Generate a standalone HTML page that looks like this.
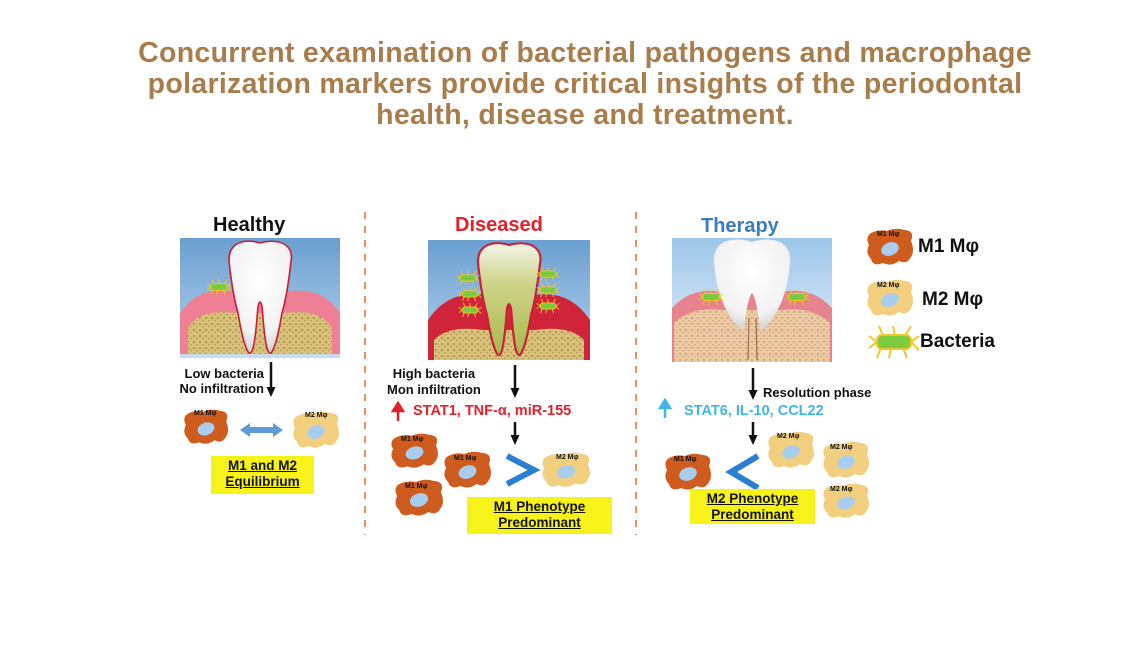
<!DOCTYPE html>
<html><head><meta charset="utf-8"><style>
body{margin:0;background:#fff;}
#c{position:relative;width:1145px;height:668px;overflow:hidden;font-family:"Liberation Sans",Arial,sans-serif;font-weight:bold;}
.t{position:absolute;white-space:nowrap;}
.title{left:0;width:1170px;top:38px;text-align:center;color:#a97d4b;font-size:28.5px;line-height:31px;letter-spacing:0.3px;}
.yb{position:absolute;background:#f7f31a;text-align:center;font-size:13.5px;line-height:16px;text-decoration:underline;color:#111;padding-top:2px;box-sizing:border-box;}
.cl{position:absolute;font-size:7px;color:#111;}
svg{position:absolute;overflow:visible;}
</style></head><body><div id="c">
<div class="t title">Concurrent examination of bacterial pathogens and macrophage<br>polarization markers provide critical insights of the periodontal<br>health, disease and treatment.</div>

<svg width="1145" height="668" style="left:0;top:0">
<defs>
<linearGradient id="sky" x1="0" y1="0" x2="0" y2="1"><stop offset="0" stop-color="#6a9fd0"/><stop offset="1" stop-color="#b6d3ec"/></linearGradient>
<linearGradient id="sky2" x1="0" y1="0" x2="0" y2="1"><stop offset="0" stop-color="#9cc6ea"/><stop offset="1" stop-color="#eaf2fa"/></linearGradient>
<radialGradient id="tw" cx="0.5" cy="0.35" r="0.7"><stop offset="0" stop-color="#fff"/><stop offset="0.7" stop-color="#f2f2f2"/><stop offset="1" stop-color="#c8c8c8"/></radialGradient>
<linearGradient id="plq" x1="0" y1="0" x2="0" y2="1"><stop offset="0" stop-color="#f4f4e8"/><stop offset="0.35" stop-color="#cfd48a"/><stop offset="1" stop-color="#a9b84a"/></linearGradient>
<pattern id="bone" width="6" height="6" patternUnits="userSpaceOnUse"><rect width="6" height="6" fill="#d9c17a"/><circle cx="2" cy="2" r="0.9" fill="#8f7a3a"/><circle cx="5" cy="4.5" r="0.7" fill="#a48c48"/></pattern>
<pattern id="bone2" width="6" height="6" patternUnits="userSpaceOnUse"><rect width="6" height="6" fill="#ecc9a2"/><circle cx="2" cy="2" r="0.7" fill="#a07a5a"/><circle cx="5" cy="4.5" r="0.5" fill="#a07a5a"/></pattern>
<symbol id="cell" viewBox="0 0 50 40" preserveAspectRatio="none"><path d="M6 6 Q14 2 22 4 Q30 0 40 3 Q50 4 46 14 Q50 24 46 30 Q42 38 34 34 Q26 40 18 36 Q8 40 6 32 Q0 26 4 18 Q0 10 6 6Z"/><ellipse cx="25" cy="22" rx="9" ry="6.5" fill="#a9cdef" transform="rotate(-20 25 22)"/></symbol>
<symbol id="bac" viewBox="0 0 54 36" preserveAspectRatio="none"><g stroke="#f2c62a" stroke-width="2" fill="none"><path d="M10 18 L2 12 M10 18 L2 24 M16 12 L12 2 M28 12 L26 2 M38 12 L44 2 M44 18 L52 12 M44 18 L52 26 M36 24 L40 34 M24 24 L22 34 M14 24 L10 34"/></g><rect x="10" y="11" width="34" height="14" rx="5" fill="#7ccb3e" stroke="#f2c62a" stroke-width="2"/></symbol>
<marker id="ah" markerUnits="userSpaceOnUse" markerWidth="10" markerHeight="10" refX="5" refY="5" orient="auto"><path d="M0 0.5L10 5L0 9.5Z" fill="#111"/></marker>
<path id="tooth" d="M52 25 C50 5 65 0 80 5 C95 0 112 5 108 25 C106 45 104 60 100 75 C97 95 94 110 90 115 C86 117 84 100 82 70 C81 62 79 62 78 70 C76 100 74 117 70 115 C66 110 63 95 60 75 C56 60 54 45 52 25Z"/>
</defs>

<line x1="365" y1="212" x2="365" y2="535" stroke="#e8935a" stroke-width="2" stroke-dasharray="7,7"/>
<line x1="636" y1="212" x2="636" y2="535" stroke="#e8935a" stroke-width="2" stroke-dasharray="7,7"/>

<g transform="translate(180,238)">
<rect width="160" height="120" fill="url(#sky)"/>
<path d="M0 75 Q20 45 60 55 L100 55 Q140 45 160 75 L160 120 L0 120Z" fill="#ee7f95"/>
<path d="M8 120 L8 90 Q20 70 55 75 L105 75 Q140 70 152 90 L152 120Z" fill="url(#bone)"/>
<use href="#tooth" fill="url(#tw)" stroke="#c8203a" stroke-width="1.5" transform="translate(-8,0) scale(1.1,1)"/>
<rect x="0" y="116" width="160" height="4" fill="#c9dcee"/>
<use href="#bac" x="26" y="40" width="26" height="18"/>
</g>
<g transform="translate(428,240)">
<rect width="162" height="120" fill="url(#sky)"/>
<path d="M0 80 Q20 50 55 55 L107 55 Q142 50 162 80 L162 120 L0 120Z" fill="#d0243a"/>
<path d="M6 120 L6 100 Q20 85 55 90 L107 90 Q142 85 156 100 L156 120Z" fill="url(#bone)"/>
<use href="#tooth" fill="url(#plq)" stroke="#c8203a" stroke-width="2" transform="translate(-7,0) scale(1.1,1)"/>
<use href="#bac" x="28" y="30" width="24" height="16"/><use href="#bac" x="30" y="46" width="24" height="16"/><use href="#bac" x="30" y="62" width="24" height="16"/>
<use href="#bac" x="108" y="26" width="24" height="16"/><use href="#bac" x="108" y="42" width="24" height="16"/><use href="#bac" x="108" y="58" width="24" height="16"/>
</g>
<g transform="translate(672,238)">
<rect width="160" height="124" fill="url(#sky2)"/>
<path d="M0 70 Q20 48 50 54 L110 54 Q140 48 160 70 L160 124 L0 124Z" fill="#e6838f"/>
<path d="M2 124 L2 85 Q20 68 50 72 L110 72 Q140 68 158 85 L158 124Z" fill="url(#bone2)"/>
<path d="M77 80 L76 122 M84 80 L85 122" stroke="#9a6b4a" stroke-width="1.2"/>
<path d="M42 24 C40 2 62 -2 80 4 C98 -2 120 2 118 24 C116 50 110 66 102 78 C96 88 90 96 88 90 C86 75 84 60 80 55 C76 60 74 75 72 90 C70 96 64 88 58 78 C50 66 44 50 42 24Z" fill="url(#tw)"/>
<use href="#bac" x="26" y="50" width="26" height="18"/><use href="#bac" x="112" y="50" width="26" height="18"/>
</g>

<line x1="271" y1="362" x2="271" y2="392" stroke="#111" stroke-width="2.5" marker-end="url(#ah)"/>
<line x1="515" y1="365" x2="515" y2="393" stroke="#111" stroke-width="2.5" marker-end="url(#ah)"/>
<line x1="515" y1="422" x2="515" y2="440" stroke="#111" stroke-width="2.5" marker-end="url(#ah)"/>
<line x1="753" y1="368" x2="753" y2="395" stroke="#111" stroke-width="2.5" marker-end="url(#ah)"/>
<line x1="753" y1="422" x2="753" y2="440" stroke="#111" stroke-width="2.5" marker-end="url(#ah)"/>
<path d="M398 421 L398 410 M393 411 L398 403 L403 411Z" stroke="#e4202a" stroke-width="2.5" fill="#e4202a"/>
<path d="M665 418 L665 407 M660 408 L665 400 L670 408Z" stroke="#3fb6e8" stroke-width="2.5" fill="#3fb6e8"/>
<path d="M240 430 L250 423 L250 427 L273 427 L273 423 L283 430 L273 437 L273 433 L250 433 L250 437Z" fill="#5d9bd4"/>
<path d="M507 456 L534 470 L507 484" stroke="#2b7fd0" stroke-width="6" fill="none"/>
<path d="M758 456 L731 472 L758 488" stroke="#2b7fd0" stroke-width="6" fill="none"/>

<g fill="#cf5c1f">
<use href="#cell" x="182" y="408" width="48" height="38"/>
<use href="#cell" x="389" y="432" width="51" height="38"/>
<use href="#cell" x="442" y="450" width="51" height="40"/>
<use href="#cell" x="393" y="478" width="52" height="40"/>
<use href="#cell" x="663" y="452" width="50" height="40"/>
<use href="#cell" x="865" y="227" width="50" height="40"/>
</g>
<g fill="#f1cf7f">
<use href="#cell" x="291" y="410" width="50" height="40"/>
<use href="#cell" x="540" y="451" width="52" height="38"/>
<use href="#cell" x="766" y="430" width="50" height="40"/>
<use href="#cell" x="821" y="440" width="50" height="40"/>
<use href="#cell" x="821" y="482" width="50" height="38"/>
<use href="#cell" x="865" y="278" width="50" height="40"/>
</g>
<use href="#bac" x="867" y="324" width="54" height="36"/>
</svg>

<div class="cl" style="left:194px;top:410px">M1 Mφ</div>
<div class="cl" style="left:305px;top:412px">M2 Mφ</div>
<div class="cl" style="left:401px;top:436px">M1 Mφ</div>
<div class="cl" style="left:454px;top:455px">M1 Mφ</div>
<div class="cl" style="left:405px;top:483px">M1 Mφ</div>
<div class="cl" style="left:556px;top:454px">M2 Mφ</div>
<div class="cl" style="left:674px;top:456px">M1 Mφ</div>
<div class="cl" style="left:777px;top:433px">M2 Mφ</div>
<div class="cl" style="left:830px;top:444px">M2 Mφ</div>
<div class="cl" style="left:830px;top:486px">M2 Mφ</div>
<div class="cl" style="left:877px;top:231px">M1 Mφ</div>
<div class="cl" style="left:877px;top:282px">M2 Mφ</div>

<div class="t" style="left:213px;top:214px;font-size:20px;color:#111">Healthy</div>
<div class="t" style="left:455px;top:214px;font-size:20px;color:#e4202a">Diseased</div>
<div class="t" style="left:701px;top:215px;font-size:20px;color:#3c7bbf">Therapy</div>

<div class="t" style="left:918px;top:236px;font-size:19px;color:#111">M1 Mφ</div>
<div class="t" style="left:922px;top:289px;font-size:19px;color:#111">M2 Mφ</div>
<div class="t" style="left:920px;top:331px;font-size:19px;color:#111">Bacteria</div>

<div class="t" style="left:170px;width:94px;top:366px;font-size:13px;line-height:15px;text-align:right;color:#111">Low bacteria<br>No infiltration</div>
<div class="t" style="left:387px;top:366px;font-size:13px;line-height:16px;text-align:center;color:#111">High bacteria<br>Mon infiltration</div>
<div class="t" style="left:413px;top:403px;font-size:14.5px;color:#e4202a">STAT1, TNF-α, miR-155</div>
<div class="t" style="left:763px;top:385px;font-size:13px;color:#111">Resolution phase</div>
<div class="t" style="left:684px;top:403px;font-size:14.5px;color:#3fb6e8">STAT6, IL-10, CCL22</div>

<div class="yb" style="left:211px;top:456px;width:103px;height:38px">M1 and M2<br>Equilibrium</div>
<div class="yb" style="left:467px;top:497px;width:145px;height:37px">M1 Phenotype<br>Predominant</div>
<div class="yb" style="left:690px;top:489px;width:125px;height:35px">M2 Phenotype<br>Predominant</div>
</div></body></html>
